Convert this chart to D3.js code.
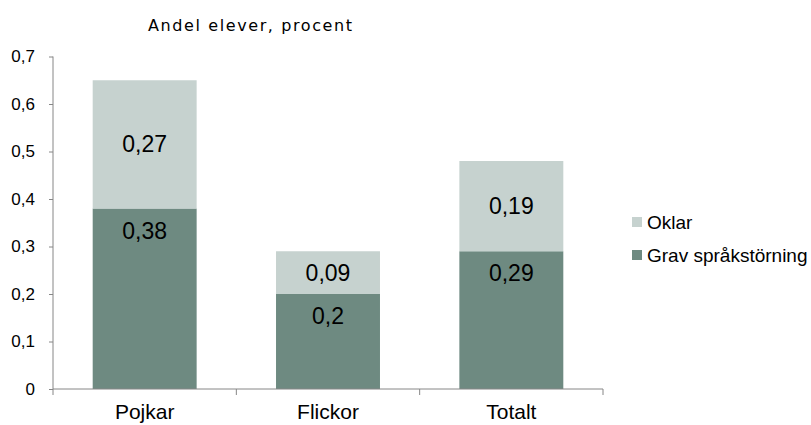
<!DOCTYPE html>
<html><head><meta charset="utf-8">
<script src="https://cdn.jsdelivr.net/npm/d3@7"></script>
<style>body{margin:0;background:#fff}svg{display:block}text{font-family:"Liberation Sans",Arial,sans-serif;fill:#000}</style>
</head><body><svg id="c" width="811" height="425"></svg>
<script>
const categories = ["Pojkar", "Flickor", "Totalt"];
const grav = [0.38, 0.2, 0.29];
const oklar = [0.27, 0.09, 0.19];
const seriesNames = ["Grav språkstörning", "Oklar"];
const yTicks = [0, 0.1, 0.2, 0.3, 0.4, 0.5, 0.6, 0.7];
const title = "Andel elever, procent";
const colors = {"Grav språkstörning": "#6e8a81", "Oklar": "#c6d2cf"};

const svg = d3.select("#c");
const x0 = 53, x1 = 603, yTop = 56.5, yBot = 389;
const x = d3.scaleBand().domain(categories).range([x0, x1]).paddingInner(0.433).paddingOuter(0.2165);
const y = d3.scaleLinear().domain([0, 0.7]).range([yBot, yTop]);
const fmt = v => String(v).replace(".", ",");

const rows = categories.map((c, i) => ({cat: c, "Grav språkstörning": grav[i], "Oklar": oklar[i]}));
const stacked = d3.stack().keys(seriesNames)(rows);

stacked.forEach((s, si) => {
  const g = svg.append("g");
  g.selectAll("rect").data(s).enter().append("rect")
    .attr("x", d => x(d.data.cat)).attr("width", x.bandwidth())
    .attr("y", d => y(d[1])).attr("height", d => y(d[0]) - y(d[1]))
    .attr("fill", colors[s.key]);
  g.selectAll("text").data(s).enter().append("text")
    .attr("x", d => x(d.data.cat) + x.bandwidth() / 2)
    .attr("y", d => si === 0 ? y(d[1]) + 22 : (y(d[0]) + y(d[1])) / 2)
    .attr("dy", "0.35em").attr("text-anchor", "middle")
    .style("font-size", "23px")
    .text(d => fmt(+(d[1] - d[0]).toFixed(2)));
});

// y axis
const yAxis = svg.append("g").attr("transform", `translate(${x0},0)`)
  .call(d3.axisLeft(y).tickValues(yTicks).tickSize(4).tickPadding(14).tickFormat(d => fmt(d)));
yAxis.select(".domain").attr("stroke", "#868686").attr("d", `M0,${yTop}V${yBot}`);
yAxis.selectAll(".tick line").attr("stroke", "#868686");
yAxis.selectAll(".tick text").style("font-size", "17px").attr("font-family", null);

// x axis
const xg = svg.append("g").attr("transform", `translate(0,${yBot})`);
xg.append("line").attr("x1", x0).attr("x2", x1).attr("y1", 0).attr("y2", 0).attr("stroke", "#868686");
const bounds = d3.range(categories.length + 1).map(i => x0 + i * (x1 - x0) / categories.length);
xg.selectAll(".bt").data(bounds).enter().append("line")
  .attr("x1", d => d).attr("x2", d => d).attr("y1", 0).attr("y2", 6).attr("stroke", "#868686");
xg.selectAll(".cl").data(categories).enter().append("text")
  .attr("x", d => x(d) + x.bandwidth() / 2).attr("y", 30)
  .attr("text-anchor", "middle").style("font-size", "21px").text(d => d);

// title
svg.append("text").attr("x", 148).attr("y", 31)
  .style("font-family", "'DejaVu Sans', sans-serif")
  .style("font-size", "16px").style("letter-spacing", "1.6px").text(title);

// legend
const legendItems = ["Oklar", "Grav språkstörning"];
const lg = svg.selectAll(".lg").data(legendItems).enter().append("g")
  .attr("transform", (d, i) => `translate(632,${222 + i * 33})`);
lg.append("rect").attr("y", -5).attr("width", 10).attr("height", 10).attr("fill", d => colors[d]);
lg.append("text").attr("x", 15).attr("y", 0).attr("dy", "0.35em").style("font-size", "19px").text(d => d);
</script></body></html>
